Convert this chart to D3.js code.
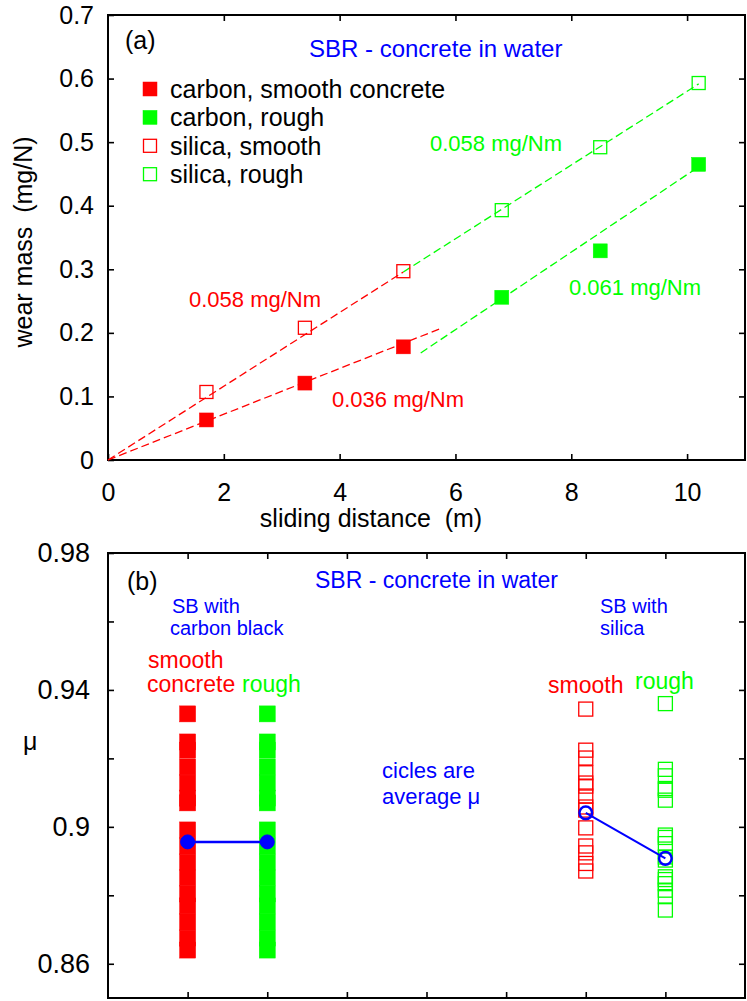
<!DOCTYPE html>
<html>
<head>
<meta charset="utf-8">
<script src="https://cdn.jsdelivr.net/npm/d3@7"></script>
<style>
  body { margin: 0; background: #fff; }
  svg { display: block; font-family: "Liberation Sans", Arial, Helvetica, sans-serif; }
  text { white-space: pre; }
</style>
</head>
<body>
<script>
// ---- (a) wear mass vs sliding distance ----
var distSmooth = [1.7, 3.4, 5.1];
var distRough = [6.8, 8.5, 10.2];
var wearCarbonSmooth = [0.063, 0.121, 0.178];
var wearCarbonRough = [0.256, 0.329, 0.465];
var wearSilicaSmooth = [0.107, 0.208, 0.297];
var wearSilicaRough = [0.393, 0.492, 0.593];
var legendLabels = ['carbon, smooth concrete', 'carbon, rough', 'silica, smooth', 'silica, rough'];
var distTicks = [0, 2, 4, 6, 8, 10];
var wearTicks = [0, 0.1, 0.2, 0.3, 0.4, 0.5, 0.6, 0.7];
// fitted lines: wear = rate * d + offset, drawn from d0 to d1
var fitRate = [0.058, 0.058, 0.036, 0.061];
var fitOffset = [0, 0, 0, -0.161];
var fitFrom = [0, 5.1, 0, 5.4];
var fitTo = [5.1, 10.2, 5.75, 10.2];
var fitLabels = ['0.058 mg/Nm', '0.058 mg/Nm', '0.036 mg/Nm', '0.061 mg/Nm'];

// ---- (b) friction coefficient ----
var groupPos = [1, 2, 6, 7];
var muCarbonSmooth = [0.9330, 0.9248, 0.9224, 0.9175, 0.9128, 0.9084, 0.9070, 0.8991,
  0.8944, 0.8897, 0.8851, 0.8804, 0.8769, 0.8722, 0.8675, 0.8640];
var muCarbonRough = [0.9330, 0.9248, 0.9224, 0.9175, 0.9128, 0.9084, 0.9070, 0.8991,
  0.8944, 0.8897, 0.8851, 0.8804, 0.8769, 0.8722, 0.8675, 0.8640];
var muSilicaSmooth = [0.9344, 0.9224, 0.9201, 0.9158, 0.9128, 0.9119, 0.9090, 0.9058,
  0.9049, 0.8997, 0.8944, 0.8924, 0.8893, 0.8871];
var muSilicaRough = [0.9360, 0.9168, 0.9149, 0.9112, 0.9107, 0.9078, 0.8976, 0.8969,
  0.8951, 0.8912, 0.8903, 0.8854, 0.8846, 0.8834, 0.8815, 0.8796, 0.8757];
var muAverage = [0.8956, 0.8956, 0.9041, 0.8908];
var muTicks = [0.86, 0.88, 0.9, 0.92, 0.94, 0.96, 0.98];
var muLabels = [0.86, 0.9, 0.94, 0.98];
var posTicks = [1, 2, 3, 4, 5, 6, 7];

var RED = '#ff0000', GREEN = '#00ff00', BLUE = '#0000ff';

var svg = d3.select('body').append('svg')
  .attr('width', 747)
  .attr('height', 1001);

function txt(g, x, y, s, size, color, anchor) {
  return g.append('text')
    .attr('x', x).attr('y', y)
    .attr('font-size', size)
    .attr('fill', color || '#000')
    .attr('text-anchor', anchor || 'start')
    .text(s);
}

function square(g, cx, cy, size, color, filled) {
  g.append('rect')
    .attr('x', cx - size / 2).attr('y', cy - size / 2)
    .attr('width', size).attr('height', size)
    .attr('fill', filled ? color : 'none')
    .attr('stroke', color)
    .attr('stroke-width', filled ? 0.5 : 1.3);
}

function inwardTicks(g, axis, tr) {
  var a = g.append('g').attr('transform', tr).call(axis);
  a.select('.domain').remove();
  a.selectAll('.tick line').attr('stroke', '#000').attr('stroke-width', 1.6);
  return a;
}

// ================= panel (a) =================
var x = d3.scaleLinear().domain([0, 11]).range([108, 745]);
var y = d3.scaleLinear().domain([0, 0.7]).range([460, 15]);
var pa = svg.append('g');

var ax = inwardTicks(pa, d3.axisBottom(x).tickValues(distTicks).tickSizeInner(-6).tickSizeOuter(0)
  .tickPadding(23), 'translate(0,460)');
ax.selectAll('text').attr('font-size', 25).attr('font-family', null).attr('fill', '#000');
inwardTicks(pa, d3.axisTop(x).tickValues(distTicks.slice(1)).tickSizeInner(-6).tickSizeOuter(0)
  .tickFormat(''), 'translate(0,15)');
var ay = inwardTicks(pa, d3.axisLeft(y).tickValues(wearTicks).tickSizeInner(-6).tickSizeOuter(0)
  .tickPadding(14).tickFormat(d3.format('~g')), 'translate(108,0)');
ay.selectAll('text').attr('font-size', 25).attr('font-family', null).attr('fill', '#000');
inwardTicks(pa, d3.axisRight(y).tickValues(wearTicks.slice(1, 7)).tickSizeInner(-6).tickSizeOuter(0)
  .tickFormat(''), 'translate(745,0)');

pa.append('rect')
  .attr('x', 108).attr('y', 15).attr('width', 745 - 108).attr('height', 460 - 15)
  .attr('fill', 'none').attr('stroke', '#000').attr('stroke-width', 2);

// fitted dashed lines
var fitColor = [RED, GREEN, RED, GREEN];
fitRate.forEach(function(r, i) {
  pa.append('line')
    .attr('x1', x(fitFrom[i])).attr('y1', y(r * fitFrom[i] + fitOffset[i]))
    .attr('x2', x(fitTo[i])).attr('y2', y(r * fitTo[i] + fitOffset[i]))
    .attr('stroke', fitColor[i])
    .attr('stroke-width', 1.3)
    .attr('stroke-dasharray', '8,4');
});

// data points
var pts = [
  [distSmooth, wearCarbonSmooth, RED, true],
  [distRough, wearCarbonRough, GREEN, true],
  [distSmooth, wearSilicaSmooth, RED, false],
  [distRough, wearSilicaRough, GREEN, false]
];
pts.forEach(function(p) {
  p[0].forEach(function(d, i) {
    square(pa, x(d), y(p[1][i]), p[3] ? 14 : 13, p[2], p[3]);
  });
});

// legend
legendLabels.forEach(function(l, i) {
  var cy = 89 + i * 28.4;
  square(pa, 150, cy, i < 2 ? 14 : 13, pts[i][2], pts[i][3]);
  txt(pa, 170, cy + 9, l, 25);
});

txt(pa, 125, 49, '(a)', 25);
txt(pa, 309, 57, 'SBR - concrete in water', 24, BLUE);
txt(pa, 189, 307, fitLabels[0], 22, RED);
txt(pa, 430, 151, fitLabels[1], 22, GREEN);
txt(pa, 332, 407, fitLabels[2], 22, RED);
txt(pa, 569, 295, fitLabels[3], 22, GREEN);

txt(pa, 371, 527, 'sliding distance  (m)', 25, '#000', 'middle');
pa.append('text')
  .attr('transform', 'translate(32,242) rotate(-90)')
  .attr('font-size', 25)
  .attr('text-anchor', 'middle')
  .text('wear mass  (mg/N)');

// ================= panel (b) =================
var xb = d3.scaleLinear().domain([0, 8]).range([108, 745]);
var yb = d3.scaleLinear().domain([0.85, 0.98]).range([998, 553]);
var pb = svg.append('g');

inwardTicks(pb, d3.axisBottom(xb).tickValues(posTicks).tickSizeInner(-6).tickSizeOuter(0)
  .tickFormat(''), 'translate(0,998)');
inwardTicks(pb, d3.axisTop(xb).tickValues(posTicks).tickSizeInner(-6).tickSizeOuter(0)
  .tickFormat(''), 'translate(0,553)');
var ayb = inwardTicks(pb, d3.axisLeft(yb).tickValues(muTicks).tickSizeInner(-6).tickSizeOuter(0)
  .tickPadding(18).tickFormat(function(d) { return muLabels.indexOf(d) >= 0 ? d3.format('~g')(d) : ''; }),
  'translate(108,0)');
ayb.selectAll('text').attr('font-size', 27).attr('font-family', null).attr('fill', '#000');
inwardTicks(pb, d3.axisRight(yb).tickValues(muTicks.slice(0, 6)).tickSizeInner(-6).tickSizeOuter(0)
  .tickFormat(''), 'translate(745,0)');

pb.append('rect')
  .attr('x', 108).attr('y', 553).attr('width', 745 - 108).attr('height', 998 - 553)
  .attr('fill', 'none').attr('stroke', '#000').attr('stroke-width', 2);

var cols = [
  [muCarbonSmooth, RED, true],
  [muCarbonRough, GREEN, true],
  [muSilicaSmooth, RED, false],
  [muSilicaRough, GREEN, false]
];
cols.forEach(function(c, i) {
  c[0].forEach(function(m) {
    square(pb, xb(groupPos[i]), yb(m), c[2] ? 16 : 14, c[1], c[2]);
  });
});

// average mu
pb.append('line')
  .attr('x1', xb(groupPos[0])).attr('y1', yb(muAverage[0]))
  .attr('x2', xb(groupPos[1])).attr('y2', yb(muAverage[1]))
  .attr('stroke', BLUE).attr('stroke-width', 2.5);
pb.append('line')
  .attr('x1', xb(groupPos[2])).attr('y1', yb(muAverage[2]))
  .attr('x2', xb(groupPos[3])).attr('y2', yb(muAverage[3]))
  .attr('stroke', BLUE).attr('stroke-width', 2);
muAverage.forEach(function(m, i) {
  pb.append('circle')
    .attr('cx', xb(groupPos[i])).attr('cy', yb(m))
    .attr('r', i < 2 ? 7 : 6.3)
    .attr('fill', i < 2 ? BLUE : 'none')
    .attr('stroke', BLUE)
    .attr('stroke-width', i < 2 ? 1 : 2.5);
});

txt(pb, 127, 590, '(b)', 25);
txt(pb, 315, 588, 'SBR - concrete in water', 23, BLUE);
txt(pb, 172, 613, 'SB with', 20, BLUE);
txt(pb, 170, 635, 'carbon black', 20, BLUE);
txt(pb, 148, 668, 'smooth', 23, RED);
txt(pb, 147, 692, 'concrete', 23, RED);
txt(pb, 242, 692, 'rough', 23, GREEN);
txt(pb, 600, 613, 'SB with', 20, BLUE);
txt(pb, 600, 635, 'silica', 20, BLUE);
txt(pb, 548, 693, 'smooth', 23, RED);
txt(pb, 635, 689, 'rough', 23, GREEN);
txt(pb, 382, 778, 'cicles are', 22, BLUE);
txt(pb, 382, 804, 'average \u03bc', 22, BLUE);
txt(pb, 23, 750, '\u03bc', 25);
</script>
</body>
</html>
